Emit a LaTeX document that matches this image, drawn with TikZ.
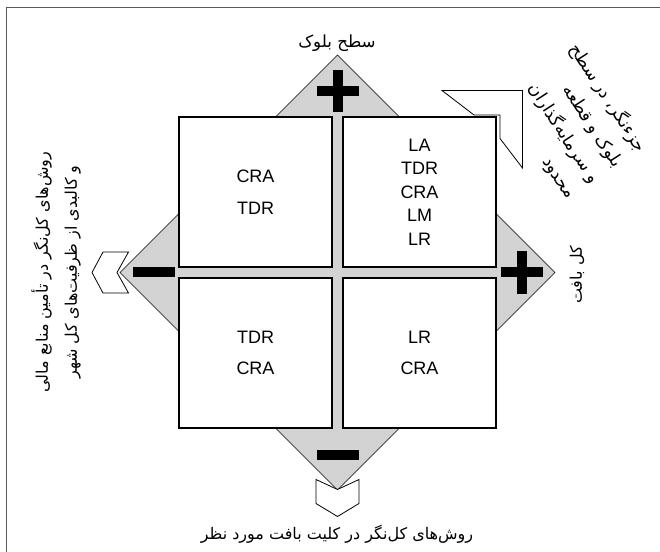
\documentclass[tikz,border=0pt]{standalone}
\usepackage{fontspec}
\setmainfont{Liberation Sans}
\newfontfamily\farsifont[Script=Arabic]{DejaVu Sans}
\TeXXeTstate=1
\newcommand{\fa}[1]{{\farsifont\beginR #1\endR}}
\usetikzlibrary{positioning}
\definecolor{diagray}{RGB}{211,211,211}
\definecolor{framegray}{RGB}{90,90,90}

\begin{document}
\begin{tikzpicture}[x=0.75pt, y=-0.75pt,
    cell/.style={draw, fill=white, line width=0.8pt, minimum width=114.75pt,
                 minimum height=112.5pt, align=center, inner sep=0pt},
    chevron/.style={draw, fill=white, line width=0.6pt},
    farsi/.style={font=\fontsize{12}{16}\selectfont, inner sep=0pt}]
    \useasboundingbox (0,0) rectangle (660,552);
    \clip (0,0) rectangle (660,552);

    % ---- frame ----
    \draw[framegray, line width=1.1pt] (6.5,7.5) rectangle (700,600);

    % ---- diamond ----
    \coordinate (N) at (337.5,55);
    \coordinate (E) at (555,272.5);
    \coordinate (S) at (337.5,490);
    \coordinate (W) at (120,272.5);
    \draw[fill=diagray, line width=0.5pt] (N) -- (E) -- (S) -- (W) -- cycle;

    % ---- four cells ----
    \node[cell, font=\fontsize{13.5}{23.7}\selectfont] (tl) at (255.5,192) {CRA\\TDR};
    \node[cell, font=\fontsize{13.5}{17.6}\selectfont] (tr) at (419.5,192) {LA\\TDR\\CRA\\LM\\LR};
    \node[cell, font=\fontsize{13.5}{23.7}\selectfont] (bl) at (255.5,353) {TDR\\CRA};
    \node[cell, font=\fontsize{13.5}{23.7}\selectfont] (br) at (419.5,353) {LR\\CRA};

    % Plus and minus signs
    \fill (316.5,86) rectangle (358.5,96);
    \fill (332.5,70) rectangle (342.5,112);
    \fill (501,267.5) rectangle (543,277.5);
    \fill (517,251.5) rectangle (527,293.5);
    \fill (133,267.5) rectangle (175,277.5);
    \fill (316.5,450) rectangle (358.5,460);

    % Chevrons
    \draw[chevron] (117,272.5) -- (128.5,252) -- (103,252) -- (92,272.5)
        -- (103,293) -- (128.5,293) -- cycle;
    \draw[chevron] (337.5,489.5) -- (316,479.5) -- (316,503.5) -- (337.5,516.5)
        -- (359,503.5) -- (359,479.5) -- cycle;
    \draw[chevron] (500,115) -- (474,115) -- (442,90.5) -- (522.5,90.5)
        -- (522.5,168) -- (500,138.5) -- cycle;

    % Labels
    \node[farsi, font=\fontsize{12.5}{16}\selectfont] (blocklbl) at (337,43) {\fa{سطح بلوک}};
    \node[farsi, rotate=90] (fabric) at (577,275) {\fa{کل بافت}};
    \node[farsi, rotate=90, align=center, font=\fontsize{12}{21.75}\selectfont] (finance) at (56,272)
        {\fa{روش^^^^200cهای کل^^^^200cنگر در تأمین منابع مالی}\\\fa{و کالبدی از ظرفیت^^^^200cهای کل شهر}};
    \node[farsi] (whole) at (337,534) {\fa{روش^^^^200cهای کل^^^^200cنگر در کلیت بافت مورد نظر}};
    \node[farsi, rotate=-57, align=right, font=\fontsize{13}{21}\selectfont] (partial) at (573,121)
        {\fa{جزءنگر، در سطح}\\\fa{بلوک و قطعه}\\\fa{و سرمایه^^^^200cگذاران}\\\fa{محدود}};
\end{tikzpicture}
\end{document}
